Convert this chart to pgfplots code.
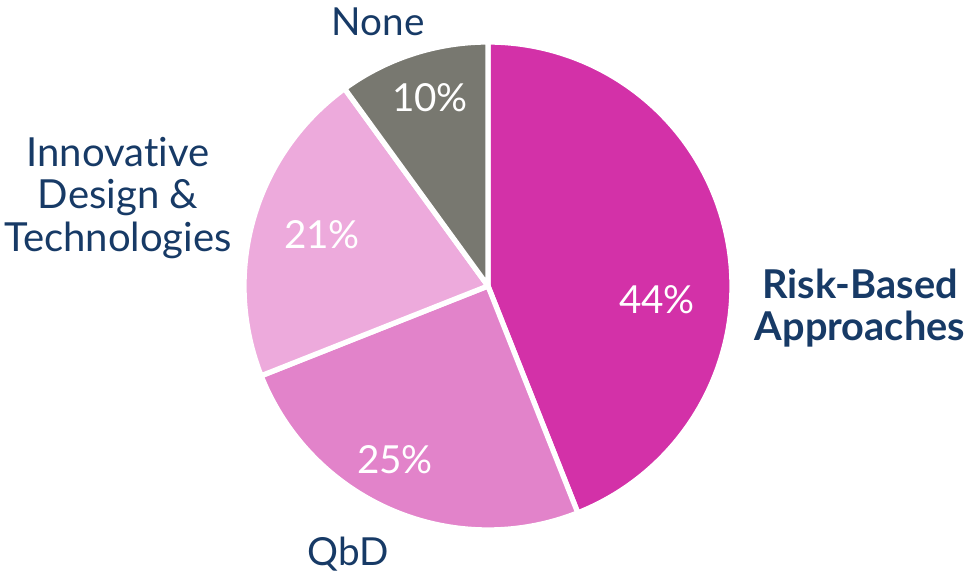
\documentclass[border=0pt]{standalone}
\usepackage{pgfplots}
\pgfplotsset{compat=1.18}
\usepackage{fontspec}
\setmainfont[Ligatures=NoCommon]{Lato}
\definecolor{navy}{HTML}{173A66}
\definecolor{riskc}{HTML}{D331A8}
\definecolor{qbdc}{HTML}{E283CA}
\definecolor{innc}{HTML}{EDAADC}
\definecolor{nonec}{HTML}{787870}
\begin{document}
\begin{tikzpicture}
\begin{axis}[
  name=ax,
  scale only axis, width=9.74cm, height=5.77cm,
  xmin=0, xmax=974, ymin=0, ymax=577,
  hide axis, clip=false,
]
% shares: Risk-Based 44, QbD 25, Innovative 21, None 10 ; start at 90 deg, clockwise
\addplot[fill=riskc, draw=white, line width=1.5pt, line join=round, domain=-68.4:90, samples=120]
  ({488+244*cos(x)},{291+244*sin(x)}) -- (axis cs:488,291) -- cycle;
\addplot[fill=qbdc, draw=white, line width=1.5pt, line join=round, domain=-158.4:-68.4, samples=80]
  ({488+244*cos(x)},{291+244*sin(x)}) -- (axis cs:488,291) -- cycle;
\addplot[fill=innc, draw=white, line width=1.5pt, line join=round, domain=-234:-158.4, samples=70]
  ({488+244*cos(x)},{291+244*sin(x)}) -- (axis cs:488,291) -- cycle;
\addplot[fill=nonec, draw=white, line width=1.5pt, line join=round, domain=-270:-234, samples=40]
  ({488+244*cos(x)},{291+244*sin(x)}) -- (axis cs:488,291) -- cycle;

\node[white, font=\fontsize{11}{13}\selectfont] at (axis cs:657,277) {44\%};
\node[white, font=\fontsize{11}{13}\selectfont] at (axis cs:395,117) {25\%};
\node[white, font=\fontsize{11}{13}\selectfont] at (axis cs:322,342) {21\%};
\node[white, font=\fontsize{11}{13}\selectfont] at (axis cs:430,479) {10\%};

\node[navy, inner sep=0pt, font=\fontsize{11}{12}\selectfont] at (axis cs:378,555) {None};
\node[navy, inner sep=0pt, font=\fontsize{11}{12}\selectfont] at (axis cs:348,23) {QbD};
\node[navy, align=center, inner sep=0pt, font=\fontsize{11.4}{12.2}\selectfont] at (axis cs:118,379) {Innovative\\Design \&\\Technologies};
\node[navy, align=center, inner sep=0pt, font=\bfseries\fontsize{11.3}{12}\selectfont] at (axis cs:860,269) {Risk-Based\\Approaches};
\end{axis}
\pgfresetboundingbox
\path[use as bounding box] (ax.south west) rectangle (ax.north east);
\end{tikzpicture}
\end{document}
